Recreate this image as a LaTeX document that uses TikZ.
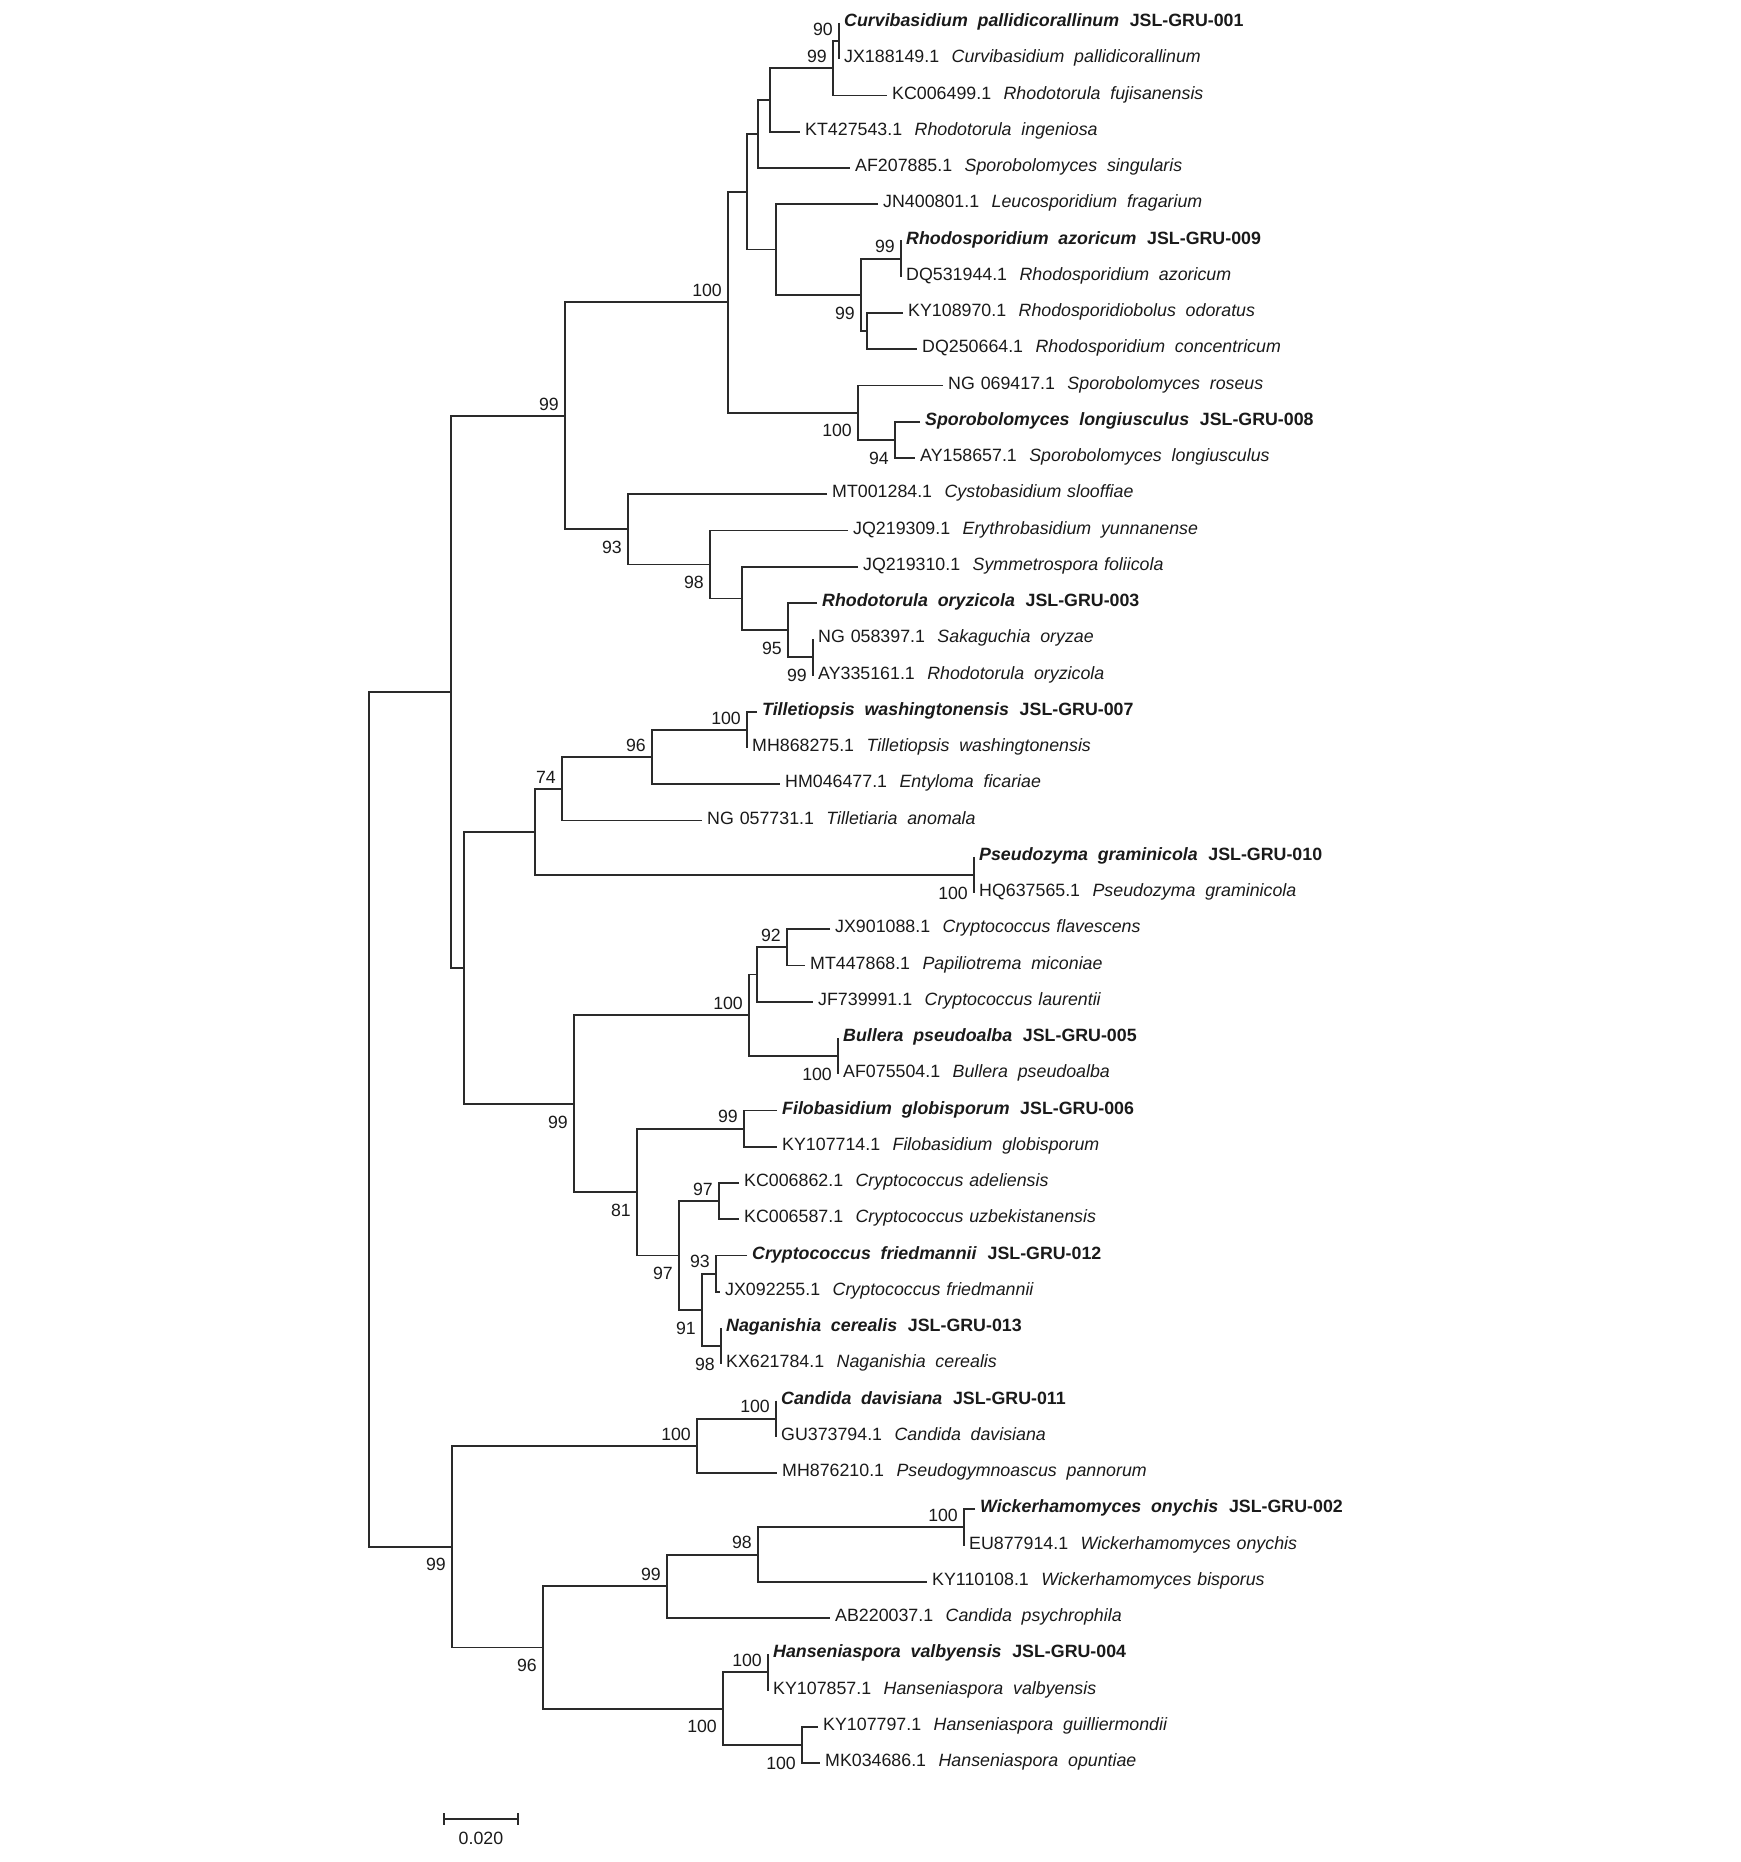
\documentclass[tikz,border=0pt]{standalone}
\usepackage{fontspec}
\setmainfont{Liberation Sans}
\usetikzlibrary{calc}
\definecolor{brc}{HTML}{2A2A2A}
\definecolor{txc}{HTML}{1A1A1A}
\newcommand{\ga}{\hspace{0.7em}}
\newcommand{\gw}{\hspace{0.55em}}
\newcommand{\gn}{\hspace{0.33em}}
\newcommand{\acw}[3]{#1\ga\textit{#2}\gw\textit{#3}}
\newcommand{\acn}[3]{#1\ga\textit{#2}\gn\textit{#3}}
\newcommand{\strain}[3]{\textbf{\textit{#1}\gw\textit{#2}\hspace{0.6em}JSL-GRU-#3}}
\newcommand{\tleaf}[4]{%
  \coordinate (#1) at (#2,{23+36.25*(#3-1)});
  \node[lab] (#1t) at (#1) {#4};}
\newcommand{\tnode}[4]{%
  \path ($(#3)!0.5!(#4)$) coordinate (#1m);
  \coordinate (#1) at (#2,0 |- #1m);
  \draw[br] (#3) -| (#1) |- (#4);}
\newcommand{\bsa}[2]{\node[bsv, yshift=5.7pt] (#1bs) at (#1) {#2};}
\newcommand{\bsb}[2]{\node[bsv, yshift=-24.3pt] (#1bs) at (#1) {#2};}
\begin{document}
\begin{tikzpicture}[x=1pt,y=-1pt,
  br/.style={draw=brc, line width=1.85pt},
  lab/.style={anchor=west, inner xsep=5pt, inner ysep=0pt, text height=0.716em, text depth=0pt,
    text=txc, font=\fontsize{17.8}{21}\selectfont},
  bsv/.style={anchor=base east, inner sep=0pt, xshift=-6pt, text=txc, font=\fontsize{17.7}{21}\selectfont}]
\useasboundingbox (0,0) rectangle (1740,1862);
\fill[white] (0,0) rectangle (1740,1862);
% leaves
\tleaf{r1}{839}{1}{\strain{Curvibasidium}{pallidicorallinum}{001}}
\tleaf{r2}{839}{2}{\acw{JX188149.1}{Curvibasidium}{pallidicorallinum}}
\tleaf{r3}{887}{3}{\acw{KC006499.1}{Rhodotorula}{fujisanensis}}
\tleaf{r4}{800}{4}{\acw{KT427543.1}{Rhodotorula}{ingeniosa}}
\tleaf{r5}{850}{5}{\acw{AF207885.1}{Sporobolomyces}{singularis}}
\tleaf{r6}{878}{6}{\acw{JN400801.1}{Leucosporidium}{fragarium}}
\tleaf{r7}{901}{7}{\strain{Rhodosporidium}{azoricum}{009}}
\tleaf{r8}{901}{8}{\acw{DQ531944.1}{Rhodosporidium}{azoricum}}
\tleaf{r9}{903}{9}{\acw{KY108970.1}{Rhodosporidiobolus}{odoratus}}
\tleaf{r10}{917}{10}{\acw{DQ250664.1}{Rhodosporidium}{concentricum}}
\tleaf{r11}{943}{11}{\acw{NG\gn 069417.1}{Sporobolomyces}{roseus}}
\tleaf{r12}{920}{12}{\strain{Sporobolomyces}{longiusculus}{008}}
\tleaf{r13}{915}{13}{\acw{AY158657.1}{Sporobolomyces}{longiusculus}}
\tleaf{r14}{827}{14}{\acn{MT001284.1}{Cystobasidium}{slooffiae}}
\tleaf{r15}{848}{15}{\acw{JQ219309.1}{Erythrobasidium}{yunnanense}}
\tleaf{r16}{858}{16}{\acn{JQ219310.1}{Symmetrospora}{foliicola}}
\tleaf{r17}{817}{17}{\strain{Rhodotorula}{oryzicola}{003}}
\tleaf{r18}{813}{18}{\acw{NG\gn 058397.1}{Sakaguchia}{oryzae}}
\tleaf{r19}{813}{19}{\acw{AY335161.1}{Rhodotorula}{oryzicola}}
\tleaf{r20}{757}{20}{\strain{Tilletiopsis}{washingtonensis}{007}}
\tleaf{r21}{747}{21}{\acw{MH868275.1}{Tilletiopsis}{washingtonensis}}
\tleaf{r22}{780}{22}{\acw{HM046477.1}{Entyloma}{ficariae}}
\tleaf{r23}{702}{23}{\acw{NG\gn 057731.1}{Tilletiaria}{anomala}}
\tleaf{r24}{974}{24}{\strain{Pseudozyma}{graminicola}{010}}
\tleaf{r25}{974}{25}{\acw{HQ637565.1}{Pseudozyma}{graminicola}}
\tleaf{r26}{830}{26}{\acn{JX901088.1}{Cryptococcus}{flavescens}}
\tleaf{r27}{805}{27}{\acw{MT447868.1}{Papiliotrema}{miconiae}}
\tleaf{r28}{813}{28}{\acn{JF739991.1}{Cryptococcus}{laurentii}}
\tleaf{r29}{838}{29}{\strain{Bullera}{pseudoalba}{005}}
\tleaf{r30}{838}{30}{\acw{AF075504.1}{Bullera}{pseudoalba}}
\tleaf{r31}{777}{31}{\strain{Filobasidium}{globisporum}{006}}
\tleaf{r32}{777}{32}{\acw{KY107714.1}{Filobasidium}{globisporum}}
\tleaf{r33}{739}{33}{\acn{KC006862.1}{Cryptococcus}{adeliensis}}
\tleaf{r34}{739}{34}{\acn{KC006587.1}{Cryptococcus}{uzbekistanensis}}
\tleaf{r35}{747}{35}{\strain{Cryptococcus}{friedmannii}{012}}
\tleaf{r36}{720}{36}{\acn{JX092255.1}{Cryptococcus}{friedmannii}}
\tleaf{r37}{721}{37}{\strain{Naganishia}{cerealis}{013}}
\tleaf{r38}{721}{38}{\acw{KX621784.1}{Naganishia}{cerealis}}
\tleaf{r39}{776}{39}{\strain{Candida}{davisiana}{011}}
\tleaf{r40}{776}{40}{\acw{GU373794.1}{Candida}{davisiana}}
\tleaf{r41}{777}{41}{\acw{MH876210.1}{Pseudogymnoascus}{pannorum}}
\tleaf{r42}{975}{42}{\strain{Wickerhamomyces}{onychis}{002}}
\tleaf{r43}{964}{43}{\acn{EU877914.1}{Wickerhamomyces}{onychis}}
\tleaf{r44}{927}{44}{\acn{KY110108.1}{Wickerhamomyces}{bisporus}}
\tleaf{r45}{830}{45}{\acw{AB220037.1}{Candida}{psychrophila}}
\tleaf{r46}{768}{46}{\strain{Hanseniaspora}{valbyensis}{004}}
\tleaf{r47}{768}{47}{\acw{KY107857.1}{Hanseniaspora}{valbyensis}}
\tleaf{r48}{818}{48}{\acw{KY107797.1}{Hanseniaspora}{guilliermondii}}
\tleaf{r49}{820}{49}{\acw{MK034686.1}{Hanseniaspora}{opuntiae}}
% internal nodes
\tnode{nNA}{839}{r1}{r2}
\tnode{nNB}{833}{nNA}{r3}
\tnode{nA}{770}{nNB}{r4}
\tnode{nB}{758}{nA}{r5}
\tnode{nM}{901}{r7}{r8}
\tnode{nN}{867}{r9}{r10}
\tnode{nL}{861}{nM}{nN}
\tnode{nD}{776}{r6}{nL}
\tnode{nC}{747}{nB}{nD}
\tnode{nP}{895}{r12}{r13}
\tnode{nO}{858}{r11}{nP}
\tnode{nE}{728}{nC}{nO}
\tnode{nK}{813}{r18}{r19}
\tnode{nJ}{788}{r17}{nK}
\tnode{nI}{742}{r16}{nJ}
\tnode{nH}{710}{r15}{nI}
\tnode{nG}{628}{r14}{nH}
\tnode{nF}{565}{nE}{nG}
\tnode{nW}{747}{r20}{r21}
\tnode{nV}{652}{nW}{r22}
\tnode{nTT}{562}{nV}{r23}
\tnode{nPz}{974}{r24}{r25}
\tnode{nT}{535}{nTT}{nPz}
\tnode{nZ}{787}{r26}{r27}
\tnode{nY}{757}{nZ}{r28}
\tnode{nBu}{838}{r29}{r30}
\tnode{nX}{749}{nY}{nBu}
\tnode{nAB}{744}{r31}{r32}
\tnode{nAD}{719}{r33}{r34}
\tnode{nAF}{716}{r35}{r36}
\tnode{nAG}{721}{r37}{r38}
\tnode{nAE}{702}{nAF}{nAG}
\tnode{nAC}{679}{nAD}{nAE}
\tnode{nAA}{637}{nAB}{nAC}
\tnode{nU}{574}{nX}{nAA}
\tnode{nS}{464}{nT}{nU}
\tnode{nQ}{451}{nF}{nS}
\tnode{nAJ}{776}{r39}{r40}
\tnode{nAI}{697}{nAJ}{r41}
\tnode{nAN}{964}{r42}{r43}
\tnode{nAM}{758}{nAN}{r44}
\tnode{nAL}{667}{nAM}{r45}
\tnode{nAP}{768}{r46}{r47}
\tnode{nAQ}{802}{r48}{r49}
\tnode{nAO}{723}{nAP}{nAQ}
\tnode{nAK}{543}{nAL}{nAO}
\tnode{nAH}{452}{nAI}{nAK}
\tnode{nR}{369}{nQ}{nAH}
% bootstrap values
\bsa{nNA}{90}
\bsa{nNB}{99}
\bsa{nE}{100}
\bsa{nM}{99}
\bsb{nL}{99}
\bsb{nO}{100}
\bsb{nP}{94}
\bsa{nF}{99}
\bsb{nG}{93}
\bsb{nH}{98}
\bsb{nJ}{95}
\bsb{nK}{99}
\bsa{nW}{100}
\bsa{nV}{96}
\bsa{nTT}{74}
\bsb{nPz}{100}
\bsa{nZ}{92}
\bsa{nX}{100}
\bsb{nBu}{100}
\bsb{nU}{99}
\bsa{nAB}{99}
\bsa{nAD}{97}
\bsb{nAC}{97}
\bsb{nAA}{81}
\bsa{nAF}{93}
\bsb{nAE}{91}
\bsb{nAG}{98}
\bsa{nAJ}{100}
\bsa{nAI}{100}
\bsa{nAN}{100}
\bsa{nAM}{98}
\bsa{nAL}{99}
\bsb{nAH}{99}
\bsb{nAK}{96}
\bsa{nAP}{100}
\bsb{nAO}{100}
\bsb{nAQ}{100}
% scale bar
\coordinate (sbL) at (444,1819);
\coordinate (sbR) at (518,1819);
\draw[br, line width=1.5pt] (sbL) -- (sbR);
\draw[br, line width=1.5pt] ($(sbL)+(0,-6)$) -- ($(sbL)+(0,6)$);
\draw[br, line width=1.5pt] ($(sbR)+(0,-6)$) -- ($(sbR)+(0,6)$);
\node[lab, anchor=center, inner xsep=0pt] (sbt) at ($(sbL)!0.5!(sbR)+(0,22)$) {0.020};
\end{tikzpicture}
\end{document}
